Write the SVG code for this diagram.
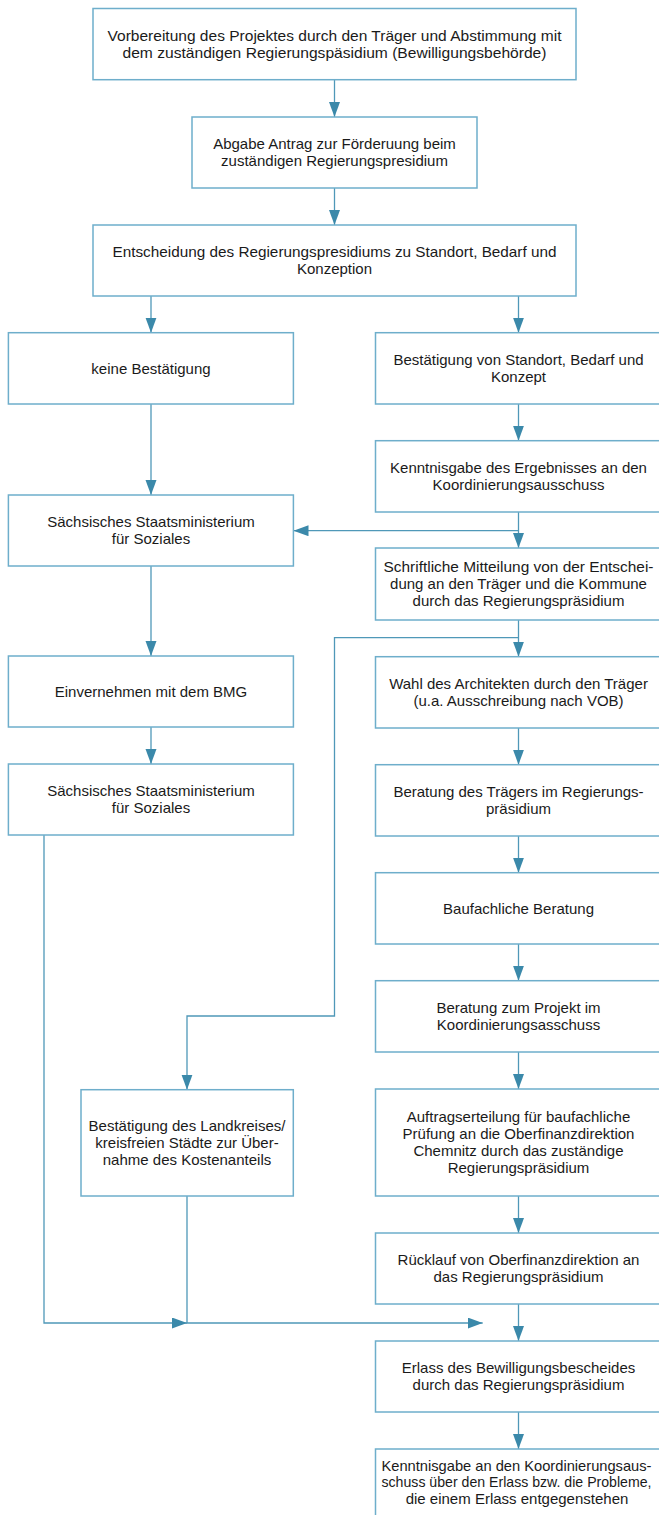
<svg xmlns="http://www.w3.org/2000/svg" width="659" height="1515" viewBox="0 0 659 1515">
<style>
.box{fill:#ffffff;stroke:#6eaecb;stroke-width:1.5}
.t{font-family:"Liberation Sans",Arial,sans-serif;font-size:15px;fill:#1a1a1a;text-anchor:middle}
.c{fill:none;stroke:#4f98b8;stroke-width:1.3}
</style>
<defs>
<marker id="ah" markerUnits="userSpaceOnUse" markerWidth="16" markerHeight="12" refX="15" refY="5.5" orient="auto">
<path d="M0,0 L15,5.5 L0,11 z" fill="#3b89aa"/>
</marker>
</defs>
<rect width="659" height="1515" fill="#ffffff"/>
<g id="connectors">
<path class="c" d="M334.5,79.7 V117" marker-end="url(#ah)"/>
<path class="c" d="M334.5,188 V225" marker-end="url(#ah)"/>
<path class="c" d="M151,296 V332.7" marker-end="url(#ah)"/>
<path class="c" d="M518.5,296 V332.7" marker-end="url(#ah)"/>
<path class="c" d="M151,404 V495" marker-end="url(#ah)"/>
<path class="c" d="M518.5,404 V440.7" marker-end="url(#ah)"/>
<path class="c" d="M518.5,512 V548" marker-end="url(#ah)"/>
<path class="c" d="M518.5,530.7 H293.5" marker-end="url(#ah)"/>
<path class="c" d="M151,566 V656" marker-end="url(#ah)"/>
<path class="c" d="M151,727 V764" marker-end="url(#ah)"/>
<path class="c" d="M518.5,620 V656.7" marker-end="url(#ah)"/>
<path class="c" d="M518.5,637.7 H334.5 V1016 H187 V1089.7" marker-end="url(#ah)"/>
<path class="c" d="M518.5,728 V764.7" marker-end="url(#ah)"/>
<path class="c" d="M518.5,836 V872.7" marker-end="url(#ah)"/>
<path class="c" d="M518.5,944 V980.7" marker-end="url(#ah)"/>
<path class="c" d="M518.5,1052 V1089" marker-end="url(#ah)"/>
<path class="c" d="M518.5,1196 V1233" marker-end="url(#ah)"/>
<path class="c" d="M518.5,1304 V1341" marker-end="url(#ah)"/>
<path class="c" d="M518.5,1412 V1449" marker-end="url(#ah)"/>
<path class="c" d="M44,835 V1323 H187" marker-end="url(#ah)"/>
<path class="c" d="M187,1196 V1323 H482.7" marker-end="url(#ah)"/>
</g>
<g id="b1"><rect class="box" x="93" y="8.5" width="483" height="71.2"/><text class="t"><tspan x="334.5" y="40.9" textLength="454" lengthAdjust="spacingAndGlyphs">Vorbereitung des Projektes durch den Träger und Abstimmung mit</tspan><tspan x="334.5" y="57.9" textLength="424" lengthAdjust="spacingAndGlyphs">dem zuständigen Regierungspäsidium (Bewilligungsbehörde)</tspan></text></g>
<g id="b2"><rect class="box" x="192" y="117" width="285" height="71"/><text class="t"><tspan x="334.5" y="149.3">Abgabe Antrag zur Förderuung beim</tspan><tspan x="334.5" y="166.3">zuständigen Regierungspresidium</tspan></text></g>
<g id="b3"><rect class="box" x="93" y="225" width="483" height="71"/><text class="t"><tspan x="334.5" y="257.3" textLength="444" lengthAdjust="spacingAndGlyphs">Entscheidung des Regierungspresidiums zu Standort, Bedarf und</tspan><tspan x="334.5" y="274.3">Konzeption</tspan></text></g>
<g id="l1"><rect class="box" x="8.4" y="332.7" width="285" height="71.3"/><text class="t" x="151" y="373.6">keine Bestätigung</text></g>
<g id="l2"><rect class="box" x="8.4" y="495" width="285" height="71"/><text class="t"><tspan x="151" y="527.3">Sächsisches Staatsministerium</tspan><tspan x="151" y="544.3">für Soziales</tspan></text></g>
<g id="l3"><rect class="box" x="8.4" y="656" width="285" height="71"/><text class="t" x="151" y="696.8">Einvernehmen mit dem BMG</text></g>
<g id="l4"><rect class="box" x="8.4" y="764" width="285" height="71"/><text class="t"><tspan x="151" y="796.3">Sächsisches Staatsministerium</tspan><tspan x="151" y="813.3">für Soziales</tspan></text></g>
<g id="lk"><rect class="box" x="81" y="1089.7" width="212.3" height="106.3"/><text class="t"><tspan x="187" y="1131.1">Bestätigung des Landkreises/</tspan><tspan x="187" y="1148.1">kreisfreien Städte zur Über-</tspan><tspan x="187" y="1165.1">nahme des Kostenanteils</tspan></text></g>
<g id="r1"><rect class="box" x="375.5" y="332.7" width="286" height="71.3"/><text class="t"><tspan x="518.5" y="365.1">Bestätigung von Standort, Bedarf und</tspan><tspan x="518.5" y="382.1">Konzept</tspan></text></g>
<g id="r2"><rect class="box" x="375.5" y="440.7" width="286" height="71.3"/><text class="t"><tspan x="518.5" y="473.1">Kenntnisgabe des Ergebnisses an den</tspan><tspan x="518.5" y="490.1">Koordinierungsausschuss</tspan></text></g>
<g id="r3"><rect class="box" x="375.5" y="548" width="286" height="72"/><text class="t"><tspan x="518.5" y="572.3" textLength="270" lengthAdjust="spacingAndGlyphs">Schriftliche Mitteilung von der Entschei-</tspan><tspan x="518.5" y="589.3">dung an den Träger und die Kommune</tspan><tspan x="518.5" y="606.3">durch das Regierungspräsidium</tspan></text></g>
<g id="r4"><rect class="box" x="375.5" y="656.7" width="286" height="71.3"/><text class="t"><tspan x="518.5" y="689.1">Wahl des Architekten durch den Träger</tspan><tspan x="518.5" y="706.1">(u.a. Ausschreibung nach VOB)</tspan></text></g>
<g id="r5"><rect class="box" x="375.5" y="764.7" width="286" height="71.3"/><text class="t"><tspan x="518.5" y="797.1">Beratung des Trägers im Regierungs-</tspan><tspan x="518.5" y="814.1">präsidium</tspan></text></g>
<g id="r6"><rect class="box" x="375.5" y="872.7" width="286" height="71.3"/><text class="t" x="518.5" y="913.6">Baufachliche Beratung</text></g>
<g id="r7"><rect class="box" x="375.5" y="980.7" width="286" height="71.3"/><text class="t"><tspan x="518.5" y="1013.1">Beratung zum Projekt im</tspan><tspan x="518.5" y="1030.1">Koordinierungsasschuss</tspan></text></g>
<g id="r8"><rect class="box" x="375.5" y="1089" width="286" height="107"/><text class="t"><tspan x="518.5" y="1122.3">Auftragserteilung für baufachliche</tspan><tspan x="518.5" y="1139.3">Prüfung an die Oberfinanzdirektion</tspan><tspan x="518.5" y="1156.3">Chemnitz durch das zuständige</tspan><tspan x="518.5" y="1173.3">Regierungspräsidium</tspan></text></g>
<g id="r9"><rect class="box" x="375.5" y="1233" width="286" height="71"/><text class="t"><tspan x="518.5" y="1265.3">Rücklauf von Oberfinanzdirektion an</tspan><tspan x="518.5" y="1282.3">das Regierungspräsidium</tspan></text></g>
<g id="r10"><rect class="box" x="375.5" y="1341" width="286" height="71"/><text class="t"><tspan x="518.5" y="1373.3">Erlass des Bewilligungsbescheides</tspan><tspan x="518.5" y="1390.3">durch das Regierungspräsidium</tspan></text></g>
<g id="r11"><path class="box" d="M375.5,1515 V1449 H661.5 V1515"/><text class="t"><tspan x="516.5" y="1470.5" textLength="270" lengthAdjust="spacingAndGlyphs">Kenntnisgabe an den Koordinierungsaus-</tspan><tspan x="516.5" y="1487" textLength="270" lengthAdjust="spacingAndGlyphs">schuss über den Erlass bzw. die Probleme,</tspan><tspan x="517" y="1503.5">die einem Erlass entgegenstehen</tspan></text></g>
</svg>
